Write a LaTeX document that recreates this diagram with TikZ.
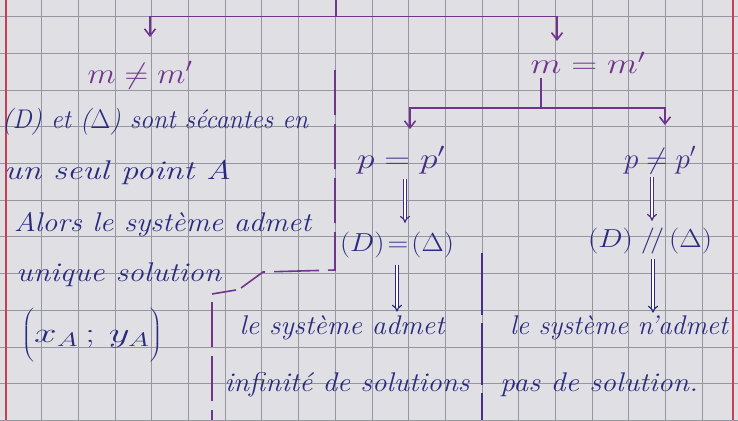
\RequirePackage{fix-cm}
\documentclass[tikz,border=0pt]{standalone}
\usetikzlibrary{arrows.meta}
\definecolor{paper}{RGB}{224,224,228}
\definecolor{gridc}{RGB}{150,150,162}
\definecolor{marg}{RGB}{205,60,85}
\definecolor{purp}{RGB}{112,52,140}
\definecolor{ink}{RGB}{42,42,128}
\definecolor{inkp}{RGB}{70,45,135}
\newcommand\fitw[2]{\resizebox{#1}{\height}{#2}}
\tikzset{
  hand/.style={font=\fontsize{27}{30}\selectfont\itshape, inner sep=1pt},
  mathtxt/.style={font=\fontsize{29}{32}\selectfont, inner sep=1pt},
  branch/.style={purp, line width=1.6pt},
  barrow/.style={purp, line width=1.6pt, -{Straight Barb[length=7pt,width=11pt,line width=1.6pt]}},
  dblarrow/.style={line width=1.2pt, double distance=2.2pt, -{Implies[length=5pt]}},
  dashline/.style={purp, line width=1.6pt, dash pattern=on 45pt off 9pt},
  divline/.style={inkp, line width=1.6pt, dash pattern=on 62pt off 8pt},
}
\begin{document}
\begin{tikzpicture}[x=1pt,y=-1pt]
\useasboundingbox (0,0) rectangle (738,420);
\fill[paper] (0,0) rectangle (738,420);
\begin{scope}
  \clip (0,0) rectangle (738,420);
  \foreach \i in {0,...,20} \draw[gridc, line width=0.9pt] ({5+36.7*\i},0) -- ++(0,420);
  \foreach \j in {0,...,11} \draw[gridc, line width=0.9pt] (0,{16.7+36.7*\j}) -- ++(738,0);
\end{scope}
\draw[marg, line width=1.5pt] (6,0) -- (6,420);
\draw[marg, line width=1.5pt] (733,0) -- (733,420);

% top level
\coordinate (top) at (336,0);
\coordinate (fork) at (336,16.5);
\node[mathtxt, text=purp] (mne) at (140,75) {\fitw{105pt}{$m\neq m'$}};
\node[mathtxt, text=purp] (meq) at (588,63) {\fitw{115pt}{$m = m'$}};
\draw[branch] (top) -- (fork);
\draw[barrow, shorten >=23pt] (fork) -| ([xshift=10pt]mne.north);
\draw[barrow, shorten >=10pt] (fork) -| ([xshift=-31pt]meq.north);

% second level
\coordinate (fork2) at (541,108);
\node[mathtxt, text=inkp] (peq) at (401,160) {\fitw{88pt}{$p=p'$}};
\node[mathtxt, text=inkp] (pne) at (660,160) {\fitw{72pt}{$p\neq p'$}};
\draw[branch] ([xshift=-47pt,yshift=-3pt]meq.south) -- (fork2);
\draw[barrow, shorten >=16pt] (fork2) -| ([xshift=9pt]peq.north);
\draw[barrow, shorten >=20pt] (fork2) -| ([xshift=5pt]pne.north);

\node[mathtxt, text=ink, font=\fontsize{26}{30}\selectfont] (Deq) at (397,245) {\fitw{114pt}{$(D)\!=\!(\Delta)$}};
\node[mathtxt, text=ink, font=\fontsize{26}{30}\selectfont] (Dpar) at (650,241) {\fitw{124pt}{$(D)\;/\!/\,(\Delta)$}};
\draw[dblarrow, inkp, shorten <=4pt, shorten >=8pt] ([xshift=4pt]peq.south) -- ([xshift=8pt]Deq.north);
\draw[dblarrow, inkp, shorten <=2pt, shorten >=6pt] ([xshift=-8pt]pne.south) -- ([xshift=2pt]Dpar.north);

% left branch text
\node[hand, text=ink, anchor=west] (l1) at (1,122) {\fitw{306pt}{(D) et ($\Delta$) sont sécantes en}};
\node[hand, text=ink, anchor=west] (l2) at (3,172) {\fitw{227pt}{un seul point A}};
\node[hand, text=ink, anchor=west] (l3) at (13,225) {\fitw{297pt}{Alors le système admet}};
\node[hand, text=ink, anchor=west] (l4) at (15,275) {\fitw{205pt}{unique solution}};
\node[hand, text=ink, font=\fontsize{28}{32}\selectfont] (l5) at (92,335) {\fitw{141pt}{$\left(\rule[-20pt]{0pt}{54pt}x_A\,;\,y_A\right)$}};

% bottom texts
\node[hand, text=ink] (m1) at (342,328) {\fitw{205pt}{le système admet}};
\node[hand, text=ink] (m2) at (347,385) {\fitw{245pt}{infinité de solutions}};
\node[hand, text=ink] (r1) at (619,328) {\fitw{218pt}{le système n'admet}};
\node[hand, text=ink] (r2) at (599,385) {\fitw{198pt}{pas de solution.}};
\draw[dblarrow, ink, shorten <=6pt, shorten >=3pt] (Deq.south) -- (Deq.south |- m1.north);
\draw[dblarrow, ink, shorten <=4pt, shorten >=2pt] ([xshift=3pt]Dpar.south) -- ([xshift=3pt]Dpar.south |- r1.north);

% separators
\coordinate (d1) at (335,70);
\coordinate (d2) at (335,270);
\coordinate (d3) at (263,272);
\coordinate (d4) at (241,288);
\coordinate (d5) at (236,290);
\coordinate (d6) at (212,294);
\coordinate (d7) at (212,302);
\coordinate (d8) at (212,420);
\draw[dashline] (d1) -- (d2) -- (d3) -- (d4);
\draw[branch] (d5) -- (d6);
\draw[dashline] (d7) -- (d8);
\coordinate (s1) at (482,253);
\coordinate (s2) at (482,420);
\draw[divline] (s1) -- (s2);
\end{tikzpicture}
\end{document}
